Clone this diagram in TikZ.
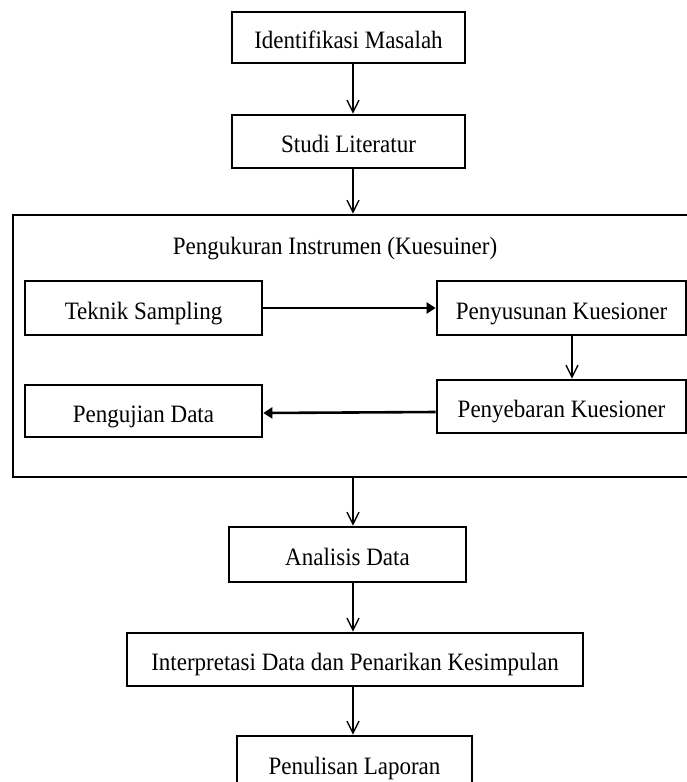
\documentclass[tikz,border=0pt]{standalone}
\usepackage{fontspec}
\setmainfont{Liberation Serif}[FakeStretch=0.92]
\usetikzlibrary{arrows.meta}
\tikzset{
  box/.style={draw, line width=2.7pt, inner sep=0pt, align=center, text height=22pt, text depth=0pt},
  varrow/.style={line width=1.4pt, -{Straight Barb[length=12pt,width=12pt,line width=1.4pt]}},
  harrow/.style={line width=2.6pt, -{Triangle[length=9pt,width=11pt]}},
}
\begin{document}
\begin{tikzpicture}[x=1pt,y=-1pt,font=\fontsize{25}{30}\selectfont]
\clip (0,0) rectangle (687,782);
\fill[white] (0,0) rectangle (687,782);
\coordinate (ax) at (353,0);
\coordinate (bx) at (572,0);
% main column
\node[box, minimum width=233pt, minimum height=51pt] (id) at (348.5,37.5) {Identifikasi Masalah};
\node[box, minimum width=233pt, minimum height=53pt] (st) at (348.5,141.5) {Studi Literatur};
% big box
\node[box, minimum width=684pt, minimum height=262pt] (big) at (355,346) {};
\node[text height=22pt, text depth=0pt, inner sep=0pt] (title) at (335,243) {Pengukuran Instrumen (Kuesuiner)};
\node[box, minimum width=237pt, minimum height=54pt] (tek) at (143.5,308) {Teknik Sampling};
\node[box, minimum width=249pt, minimum height=54pt] (pys) at (561.5,308) {Penyusunan Kuesioner};
\node[box, minimum width=249pt, minimum height=53pt] (pyb) at (561.5,406.5) {Penyebaran Kuesioner};
\node[box, minimum width=237pt, minimum height=52pt] (uji) at (143.5,411) {Pengujian Data};
% lower column
\node[box, minimum width=237pt, minimum height=55pt] (ana) at (347.5,554.5) {Analisis Data};
\node[box, minimum width=456pt, minimum height=53pt] (int) at (355,659.5) {Interpretasi Data dan Penarikan Kesimpulan};
\node[box, minimum width=235pt, minimum height=54pt] (tul) at (354.5,763) {Penulisan Laporan};
% connectors
\draw[varrow] (id.south -| ax) -- (st.north -| ax);
\draw[varrow] (st.south -| ax) -- (big.north -| ax);
\draw[harrow] (tek.east) -- (pys.west);
\draw[varrow] (pys.south -| bx) -- (pyb.north -| bx);
\draw[harrow] (pyb.west |- 0,412) -- (uji.east |- 0,413);
\draw[varrow] (big.south -| ax) -- (ana.north -| ax);
\draw[varrow] (ana.south -| ax) -- (int.north -| ax);
\draw[varrow] (int.south -| ax) -- (tul.north -| ax);
\end{tikzpicture}
\end{document}
